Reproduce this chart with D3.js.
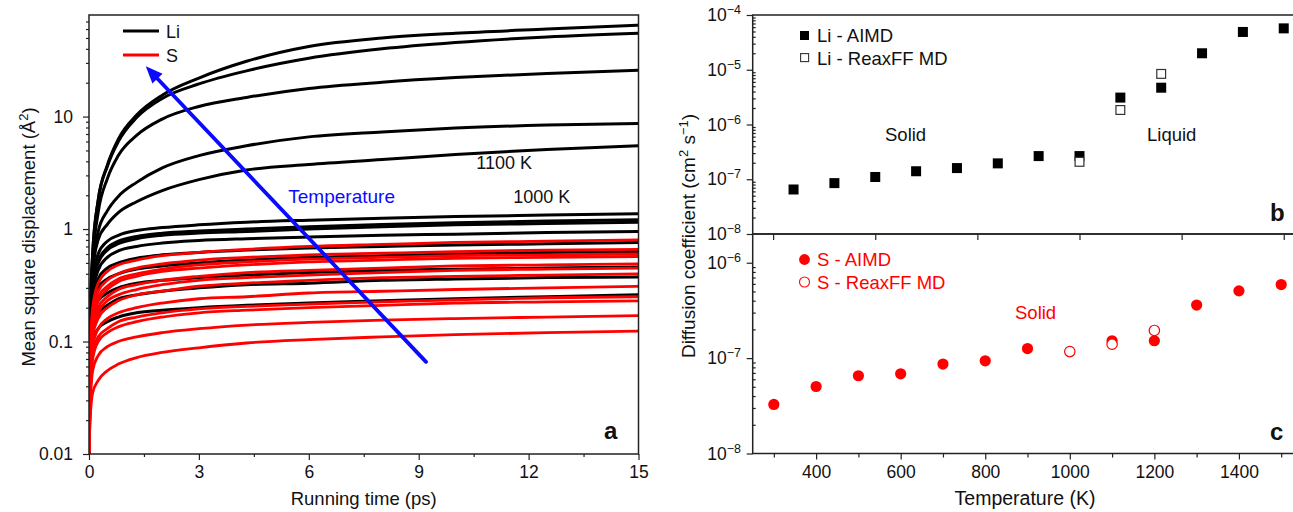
<!DOCTYPE html>
<html><head><meta charset="utf-8">
<script src="https://cdn.jsdelivr.net/npm/d3@7"></script>
<style>
body{margin:0;background:#fff}
svg{display:block}
text{font-family:"Liberation Sans",Arial,Helvetica,sans-serif;fill:#111}
</style></head>
<body><svg id="c" width="1293" height="512"></svg>
<script>
// ---------- Panel a data ----------
const times = [0, 0.03, 0.1, 0.25, 0.5, 0.8, 1.3, 2, 3, 4.3, 6, 8, 10, 12.5, 15];
const liCurves = [
  [0.01, 0.15, 0.6, 1.8, 3.7, 6.3, 10.3, 15.5, 22, 31, 42, 50, 55, 60, 65],
  [0.01, 0.15, 0.6, 1.8, 3.6, 6.0, 9.8, 14.5, 19.5, 25.5, 33, 40, 45.5, 51, 55],
  [0.01, 0.13, 0.5, 1.4, 2.8, 4.5, 6.8, 9.5, 12.3, 14.8, 17.8, 20.2, 22.2, 24.2, 25.8],
  [0.01, 0.12, 0.45, 0.95, 1.45, 1.95, 2.6, 3.5, 4.5, 5.5, 6.6, 7.3, 7.9, 8.4, 8.7],
  [0.01, 0.12, 0.42, 0.8, 1.1, 1.4, 1.75, 2.2, 2.75, 3.35, 3.75, 4.15, 4.6, 5.1, 5.5],
  [0.01, 0.1, 0.35, 0.6, 0.78, 0.88, 0.97, 1.03, 1.09, 1.15, 1.2, 1.25, 1.29, 1.33, 1.37],
  [0.01, 0.1, 0.32, 0.52, 0.68, 0.78, 0.86, 0.92, 0.96, 1.0, 1.05, 1.1, 1.14, 1.18, 1.21],
  [0.01, 0.1, 0.3, 0.5, 0.65, 0.74, 0.82, 0.88, 0.92, 0.95, 1.0, 1.05, 1.09, 1.12, 1.15],
  [0.01, 0.09, 0.27, 0.43, 0.56, 0.64, 0.7, 0.75, 0.79, 0.82, 0.85, 0.88, 0.9, 0.93, 0.95],
  [0.01, 0.08, 0.24, 0.36, 0.45, 0.5, 0.55, 0.59, 0.62, 0.65, 0.68, 0.7, 0.72, 0.74, 0.76],
  [0.01, 0.08, 0.2, 0.3, 0.36, 0.4, 0.44, 0.47, 0.5, 0.53, 0.56, 0.58, 0.6, 0.62, 0.63],
  [0.01, 0.07, 0.16, 0.23, 0.27, 0.3, 0.33, 0.35, 0.37, 0.39, 0.41, 0.43, 0.44, 0.45, 0.46],
  [0.01, 0.06, 0.13, 0.18, 0.21, 0.24, 0.26, 0.28, 0.3, 0.32, 0.33, 0.35, 0.36, 0.37, 0.375],
  [0.01, 0.05, 0.1, 0.13, 0.15, 0.165, 0.18, 0.19, 0.2, 0.21, 0.22, 0.23, 0.24, 0.25, 0.26]
];
const sCurves = [
  [0.01, 0.06, 0.2, 0.33, 0.42, 0.48, 0.53, 0.58, 0.62, 0.66, 0.7, 0.73, 0.76, 0.78, 0.80],
  [0.01, 0.05, 0.18, 0.28, 0.35, 0.4, 0.45, 0.49, 0.53, 0.56, 0.59, 0.61, 0.63, 0.65, 0.66],
  [0.01, 0.05, 0.16, 0.25, 0.31, 0.36, 0.4, 0.44, 0.48, 0.51, 0.54, 0.56, 0.58, 0.59, 0.60],
  [0.01, 0.05, 0.15, 0.23, 0.29, 0.34, 0.38, 0.42, 0.45, 0.48, 0.51, 0.53, 0.55, 0.56, 0.57],
  [0.01, 0.04, 0.13, 0.2, 0.25, 0.29, 0.32, 0.35, 0.38, 0.41, 0.43, 0.45, 0.47, 0.48, 0.49],
  [0.01, 0.04, 0.12, 0.18, 0.23, 0.26, 0.29, 0.32, 0.35, 0.37, 0.39, 0.41, 0.43, 0.44, 0.45],
  [0.01, 0.04, 0.11, 0.16, 0.2, 0.23, 0.26, 0.28, 0.31, 0.33, 0.35, 0.37, 0.38, 0.39, 0.40],
  [0.01, 0.03, 0.09, 0.13, 0.16, 0.18, 0.2, 0.22, 0.24, 0.25, 0.27, 0.28, 0.29, 0.3, 0.31],
  [0.01, 0.03, 0.08, 0.11, 0.13, 0.15, 0.165, 0.18, 0.195, 0.205, 0.215, 0.225, 0.235, 0.245, 0.25],
  [0.01, 0.03, 0.07, 0.1, 0.12, 0.135, 0.15, 0.165, 0.18, 0.19, 0.2, 0.21, 0.22, 0.225, 0.23],
  [0.01, 0.025, 0.055, 0.075, 0.09, 0.1, 0.11, 0.12, 0.13, 0.14, 0.148, 0.155, 0.16, 0.165, 0.17],
  [0.01, 0.02, 0.035, 0.045, 0.055, 0.063, 0.072, 0.08, 0.088, 0.097, 0.104, 0.11, 0.115, 0.12, 0.124]
];
const xTicksA = [0, 3, 6, 9, 12, 15];
const xMinorA = [1.5, 4.5, 7.5, 10.5, 13.5];
const yTicksA = [0.01, 0.1, 1, 10];
const arrowFrom = [9.2, 0.066];
const arrowTo = [1.55, 28];

// ---------- Panel b / c data ----------
const liTemps = [300, 400, 500, 600, 700, 800, 900, 1000, 1100, 1200, 1300, 1400, 1500];
const liAIMD = [6.5e-8, 8.5e-8, 1.1e-7, 1.4e-7, 1.6e-7, 1.95e-7, 2.65e-7, 2.65e-7, 3.1e-6, 4.7e-6, 2.0e-5, 4.9e-5, 5.7e-5];
const liReaxTemps = [1000, 1100, 1200];
const liReax = [2.08e-7, 1.84e-6, 8.4e-6];
const sTemps = [300, 400, 500, 600, 700, 800, 900, 1100, 1200, 1300, 1400, 1500];
const sAIMD = [3.27e-8, 5.04e-8, 6.53e-8, 6.85e-8, 8.66e-8, 9.37e-8, 1.26e-7, 1.52e-7, 1.52e-7, 3.6e-7, 5.07e-7, 5.9e-7];
const sReaxTemps = [1000, 1100, 1200];
const sReax = [1.17e-7, 1.40e-7, 1.95e-7];
const xTicksB = [250, 500, 750, 1000, 1250, 1500];
const xTicksC = [400, 600, 800, 1000, 1200, 1400];
const xMinorC = [300, 500, 700, 900, 1100, 1300, 1500];
const yTicksB = [1e-8, 1e-7, 1e-6, 1e-5, 1e-4];
const yTicksC = [1e-8, 1e-7, 1e-6];

const RED = "#ff0000", BLUE = "#0a0aff", FRAME = "#222";
const svg = d3.select("#c");

function minorLog(lo, hi) {
  const out = [];
  for (let e = Math.floor(Math.log10(lo)); e <= Math.ceil(Math.log10(hi)); e++)
    for (let m = 2; m <= 9; m++) { const v = m * Math.pow(10, e); if (v > lo && v < hi) out.push(v); }
  return out;
}
function styleAxis(g) {
  g.select(".domain").remove();
  g.selectAll("line").attr("stroke", FRAME).attr("stroke-width", 1.2);
  g.selectAll("text").attr("font-size", 17.5).attr("fill", "#111");
}
function expLabel(g, x, y, v) {
  const e = Math.round(Math.log10(v));
  const t = g.append("text").attr("x", x).attr("y", y).attr("text-anchor", "end").attr("font-size", 17.5).text("10");
  t.append("tspan").attr("dy", -7).attr("font-size", 12.5).text("\u2212" + Math.abs(e));
}

// ================= Panel a =================
const xA = d3.scaleLinear([0, 15], [89, 638.5]);
const yA = d3.scaleLog([0.01, 80], [454, 15]);
const gA = svg.append("g");
gA.append("clipPath").attr("id", "clipA").append("rect")
  .attr("x", 89).attr("y", 15).attr("width", 549.5).attr("height", 439);
const line = d3.line().x((d, i) => xA(times[i])).y(d => yA(d)).curve(d3.curveMonotoneX);
const curvesG = gA.append("g").attr("clip-path", "url(#clipA)");
curvesG.selectAll(".li").data(liCurves).join("path")
  .attr("d", line).attr("fill", "none").attr("stroke", "#000").attr("stroke-width", 3);
curvesG.selectAll(".s").data(sCurves).join("path")
  .attr("d", line).attr("fill", "none").attr("stroke", RED).attr("stroke-width", 2.8);

gA.append("g").attr("transform", "translate(0,454)")
  .call(d3.axisBottom(xA).tickValues(xTicksA).tickSize(6).tickPadding(6).tickFormat(d3.format("d"))).call(styleAxis);
gA.append("g").attr("transform", "translate(0,454)")
  .call(d3.axisBottom(xA).tickValues(xMinorA).tickSize(3).tickFormat("")).call(styleAxis);
gA.append("g").attr("transform", "translate(89,0)")
  .call(d3.axisLeft(yA).tickValues(yTicksA).tickSize(6).tickPadding(10).tickFormat(d => String(d))).call(styleAxis);
gA.append("g").attr("transform", "translate(89,0)")
  .call(d3.axisLeft(yA).tickValues(minorLog(0.01, 80)).tickSize(3).tickFormat("")).call(styleAxis);
gA.append("rect").attr("x", 89).attr("y", 15).attr("width", 549.5).attr("height", 439)
  .attr("fill", "none").attr("stroke", FRAME).attr("stroke-width", 1.5);

// arrow
{
  const x1 = xA(arrowFrom[0]), y1 = yA(arrowFrom[1]), x2 = xA(arrowTo[0]), y2 = yA(arrowTo[1]);
  const ang = Math.atan2(y2 - y1, x2 - x1), L = 17, Wd = 7;
  const bx = x2 - L * Math.cos(ang), by = y2 - L * Math.sin(ang);
  gA.append("line").attr("x1", x1).attr("y1", y1).attr("x2", bx + 3 * Math.cos(ang)).attr("y2", by + 3 * Math.sin(ang))
    .attr("stroke", BLUE).attr("stroke-width", 3.8).attr("stroke-linecap", "round");
  const px = -Math.sin(ang), py = Math.cos(ang);
  gA.append("path").attr("d", `M${x2},${y2}L${bx + Wd * px},${by + Wd * py}L${bx - Wd * px},${by - Wd * py}Z`)
    .attr("fill", BLUE);
}
gA.append("text").attr("x", xA(5.44)).attr("y", yA(1.71)).attr("font-size", 19).style("fill", BLUE).text("Temperature");
gA.append("text").attr("x", xA(10.57)).attr("y", yA(3.45)).attr("font-size", 18).text("1100 K");
gA.append("text").attr("x", xA(11.58)).attr("y", yA(1.7)).attr("font-size", 18).text("1000 K");
gA.append("text").attr("x", 604).attr("y", 439).attr("font-size", 24).attr("font-weight", "bold").text("a");
// legend
[["Li", "#000", 31], ["S", RED, 55]].forEach(([lab, col, y]) => {
  gA.append("line").attr("x1", 123).attr("x2", 159).attr("y1", y).attr("y2", y).attr("stroke", col).attr("stroke-width", 3);
  gA.append("text").attr("x", 166).attr("y", y + 6.5).attr("font-size", 18).text(lab);
});
gA.append("text").attr("transform", "translate(35,237) rotate(-90)").attr("text-anchor", "middle").attr("font-size", 18.5)
  .call(t => { t.append("tspan").text("Mean square displacement (\u00C5"); t.append("tspan").attr("dy", -7).attr("font-size", 13).text("2");
    t.append("tspan").attr("dy", 7).text(")"); });
gA.append("text").attr("x", 363.7).attr("y", 505).attr("text-anchor", "middle").attr("font-size", 18.5).text("Running time (ps)");

// ================= Panel b =================
const xB = d3.scaleLinear([200, 1530], [752.7, 1296]);
const yB = d3.scaleLog([1e-8, 1e-4], [234, 15]);
const gB = svg.append("g");
gB.append("g").attr("transform", "translate(0,234)")
  .call(d3.axisBottom(xB).tickValues(xTicksB).tickSize(6).tickFormat("")).call(styleAxis);
gB.append("g").attr("transform", "translate(752.7,0)")
  .call(d3.axisLeft(yB).tickValues(yTicksB).tickSize(6).tickFormat("")).call(styleAxis);
gB.append("g").attr("transform", "translate(752.7,0)")
  .call(d3.axisRight(yB).tickValues(minorLog(1e-8, 1e-4)).tickSize(3).tickFormat("")).call(styleAxis);
yTicksB.forEach(v => expLabel(gB, 741, yB(v) + 6, v));
gB.append("rect").attr("x", 752.7).attr("y", 15).attr("width", 543.3).attr("height", 219)
  .attr("fill", "none").attr("stroke", FRAME).attr("stroke-width", 1.5);
const sq = 10;
gB.selectAll(".la").data(liAIMD).join("rect")
  .attr("x", (d, i) => xB(liTemps[i]) - sq / 2).attr("y", d => yB(d) - sq / 2)
  .attr("width", sq).attr("height", sq).attr("fill", "#000");
gB.selectAll(".lr").data(liReax).join("rect")
  .attr("x", (d, i) => xB(liReaxTemps[i]) - sq / 2 + 0.6).attr("y", d => yB(d) - sq / 2 + 0.6)
  .attr("width", sq - 1.2).attr("height", sq - 1.2).attr("fill", "#fff").attr("stroke", "#333").attr("stroke-width", 1.2);
gB.append("rect").attr("x", 800).attr("y", 31).attr("width", 9).attr("height", 9).attr("fill", "#000");
gB.append("rect").attr("x", 800.6).attr("y", 53.6).attr("width", 8).attr("height", 8).attr("fill", "#fff").attr("stroke", "#333").attr("stroke-width", 1.1);
gB.append("text").attr("x", 817).attr("y", 42).attr("font-size", 18.5).text("Li - AIMD");
gB.append("text").attr("x", 817).attr("y", 64.5).attr("font-size", 18.5).text("Li - ReaxFF MD");
gB.append("text").attr("x", 885).attr("y", 141).attr("font-size", 18.5).text("Solid");
gB.append("text").attr("x", 1147).attr("y", 141).attr("font-size", 18.5).text("Liquid");
gB.append("text").attr("x", 1270).attr("y", 221).attr("font-size", 24).attr("font-weight", "bold").text("b");

// ================= Panel c =================
const xC = d3.scaleLinear([250, 1535], [752.7, 1296]);
const yC = d3.scaleLog([1e-8, 2e-6], [453.5, 234]);
const gC = svg.append("g");
gC.append("g").attr("transform", "translate(0,453.5)")
  .call(d3.axisBottom(xC).tickValues(xTicksC).tickSize(6).tickPadding(6).tickFormat(d3.format("d"))).call(styleAxis);
gC.append("g").attr("transform", "translate(0,453.5)")
  .call(d3.axisBottom(xC).tickValues(xMinorC).tickSize(4).tickFormat("")).call(styleAxis);
gC.append("g").attr("transform", "translate(752.7,0)")
  .call(d3.axisLeft(yC).tickValues(yTicksC).tickSize(6).tickFormat("")).call(styleAxis);
gC.append("g").attr("transform", "translate(752.7,0)")
  .call(d3.axisRight(yC).tickValues(minorLog(1e-8, 2e-6)).tickSize(3).tickFormat("")).call(styleAxis);
yTicksC.forEach(v => expLabel(gC, 741, yC(v) + 6, v));
gC.append("rect").attr("x", 752.7).attr("y", 234).attr("width", 543.3).attr("height", 219.5)
  .attr("fill", "none").attr("stroke", FRAME).attr("stroke-width", 1.5);
gC.selectAll(".sa").data(sAIMD).join("circle")
  .attr("cx", (d, i) => xC(sTemps[i])).attr("cy", d => yC(d)).attr("r", 5.6).attr("fill", RED);
gC.selectAll(".sr").data(sReax).join("circle")
  .attr("cx", (d, i) => xC(sReaxTemps[i])).attr("cy", d => yC(d)).attr("r", 5.2)
  .attr("fill", "#fff").attr("stroke", RED).attr("stroke-width", 1.2);
gC.append("circle").attr("cx", 804.5).attr("cy", 259.5).attr("r", 5.4).attr("fill", RED);
gC.append("circle").attr("cx", 804.5).attr("cy", 282).attr("r", 5).attr("fill", "#fff").attr("stroke", RED).attr("stroke-width", 1.1);
gC.append("text").attr("x", 817).attr("y", 266).attr("font-size", 18.5).style("fill", RED).text("S - AIMD");
gC.append("text").attr("x", 817).attr("y", 288.5).attr("font-size", 18.5).style("fill", RED).text("S - ReaxFF MD");
gC.append("text").attr("x", 1015).attr("y", 319).attr("font-size", 18.5).style("fill", RED).text("Solid");
gC.append("text").attr("x", 1270).attr("y", 440).attr("font-size", 24).attr("font-weight", "bold").text("c");
gC.append("text").attr("x", 1025).attr("y", 505).attr("text-anchor", "middle").attr("font-size", 19.5).text("Temperature (K)");

// shared y title
svg.append("text").attr("transform", "translate(695,236) rotate(-90)").attr("text-anchor", "middle").attr("font-size", 19)
  .call(t => { t.append("tspan").text("Diffusion coefficient (cm");
    t.append("tspan").attr("dy", -7).attr("font-size", 13).text("2");
    t.append("tspan").attr("dy", 7).text(" s");
    t.append("tspan").attr("dy", -7).attr("font-size", 13).text("\u22121");
    t.append("tspan").attr("dy", 7).text(")"); });
</script></body></html>
